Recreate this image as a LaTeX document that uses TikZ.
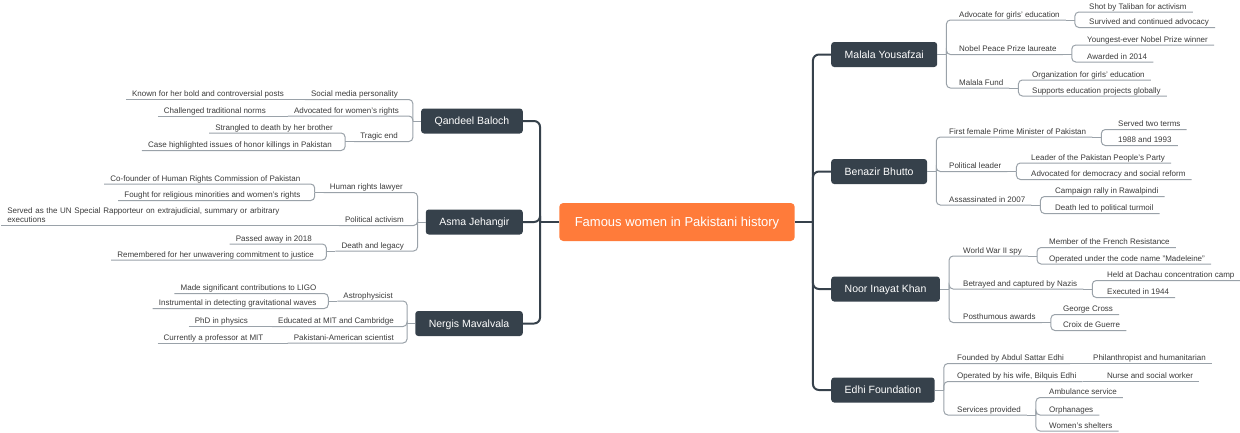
\documentclass[tikz,border=0pt]{standalone}
\usepackage{fontspec}
\setmainfont{Liberation Sans}
\definecolor{boxfill}{HTML}{36414B}
\definecolor{rootfill}{HTML}{FF7B3A}
\definecolor{linkgray}{HTML}{9AA2A9}
\definecolor{labeltext}{HTML}{3A3A3A}
\tikzset{
    root/.style={fill=rootfill, text=white, rounded corners=4pt, font=\fontsize{13}{15}\selectfont,
        inner xsep=15.5pt, inner ysep=0pt, minimum height=38pt, text height=9.3pt, text depth=0pt},
    person/.style={fill=boxfill, text=white, rounded corners=3pt, font=\fontsize{10.5}{12}\selectfont,
        inner xsep=13.5pt, inner ysep=0pt, minimum height=25pt, text height=7.5pt, text depth=0pt},
    detail/.style={text=labeltext, font=\fontsize{8}{9.6}\selectfont, inner xsep=6pt, inner ysep=0pt,
        text height=6pt, text depth=2.5pt},
    rgt/.style={detail, anchor=south west},
    lft/.style={detail, anchor=south east},
    longdetail/.style={text=labeltext, font=\fontsize{8}{9.6}\selectfont, inner xsep=6pt, inner ysep=2.5pt,
        text width=310pt, align=left, anchor=south east},
    link/.style={draw=linkgray, line width=1pt, rounded corners=4pt},
    trunk/.style={draw=boxfill, line width=2pt, rounded corners=6pt}
}
\begin{document}
\begin{tikzpicture}[x=1pt, y=-1pt]
    \useasboundingbox (0,0) rectangle (1240,432);
        \node[root] (central) at (677,222) {Famous women in Pakistani history};
        \node[person, anchor=west] (malala) at (831,54.5) {Malala Yousafzai};
        \node[person, anchor=west] (benazir) at (831,171.5) {Benazir Bhutto};
        \node[person, anchor=west] (noor) at (831,289) {Noor Inayat Khan};
        \node[person, anchor=west] (edhi) at (831,390) {Edhi Foundation};
        \node[person, anchor=east] (qandeel) at (523,121) {Qandeel Baloch};
        \node[person, anchor=east] (asma) at (523,222) {Asma Jehangir};
        \node[person, anchor=east] (nergis) at (523,323.5) {Nergis Mavalvala};

        \node[rgt] (advocate) at (953,20) {Advocate for girls' education};
        \node[rgt] (shot) at (1083,12) {Shot by Taliban for activism};
        \node[rgt] (survived) at (1083,27.5) {Survived and continued advocacy};
        \node[rgt] (nobel) at (953,54.5) {Nobel Peace Prize laureate};
        \node[rgt] (youngest) at (1081,45) {Youngest-ever Nobel Prize winner};
        \node[rgt] (awarded) at (1081,62) {Awarded in 2014};
        \node[rgt] (fund) at (953,88) {Malala Fund};
        \node[rgt] (organization) at (1026,80) {Organization for girls' education};
        \node[rgt] (supports) at (1026,96) {Supports education projects globally};

        \node[rgt] (firstpm) at (943,137) {First female Prime Minister of Pakistan};
        \node[rgt] (twoterms) at (1112,129.5) {Served two terms};
        \node[rgt] (years) at (1112,145.5) {1988 and 1993};
        \node[rgt] (political) at (943,171.5) {Political leader};
        \node[rgt] (ppp) at (1025,163) {Leader of the Pakistan People's Party};
        \node[rgt] (democracy) at (1025,179.5) {Advocated for democracy and social reform};
        \node[rgt] (assassinated) at (943,205) {Assassinated in 2007};
        \node[rgt] (rally) at (1049,196.5) {Campaign rally in Rawalpindi};
        \node[rgt] (turmoil) at (1049,213.5) {Death led to political turmoil};

        \node[rgt] (spy) at (957,256) {World War II spy};
        \node[rgt] (resistance) at (1043,247.5) {Member of the French Resistance};
        \node[rgt] (codename) at (1043,264) {Operated under the code name "Madeleine"};
        \node[rgt] (betrayed) at (957,289) {Betrayed and captured by Nazis};
        \node[rgt] (dachau) at (1101,280.5) {Held at Dachau concentration camp};
        \node[rgt] (executed) at (1101,297.5) {Executed in 1944};
        \node[rgt] (awards) at (957,322.5) {Posthumous awards};
        \node[rgt] (georgecross) at (1057,314.5) {George Cross};
        \node[rgt] (croix) at (1057,330.5) {Croix de Guerre};

        \node[rgt] (founded) at (951,363.5) {Founded by Abdul Sattar Edhi};
        \node[rgt] (philanthropist) at (1087,363.5) {Philanthropist and humanitarian};
        \node[rgt] (wife) at (951,381.5) {Operated by his wife, Bilquis Edhi};
        \node[rgt] (nurse) at (1101,381.5) {Nurse and social worker};
        \node[rgt] (services) at (951,415) {Services provided};
        \node[rgt] (ambulance) at (1043,397.5) {Ambulance service};
        \node[rgt] (orphanages) at (1043,415) {Orphanages};
        \node[rgt] (shelters) at (1043,431) {Women's shelters};

        \node[lft] (social) at (404,99.5) {Social media personality};
        \node[lft] (known) at (290,99.5) {Known for her bold and controversial posts};
        \node[lft] (womensrights) at (405,116) {Advocated for women's rights};
        \node[lft] (norms) at (272,116) {Challenged traditional norms};
        \node[lft] (tragic) at (404,141.5) {Tragic end};
        \node[lft] (strangled) at (339,133) {Strangled to death by her brother};
        \node[lft] (honor) at (338,150.5) {Case highlighted issues of honor killings in Pakistan};

        \node[lft] (lawyer) at (409,192.5) {Human rights lawyer};
        \node[lft] (hrcp) at (306.5,184) {Co-founder of Human Rights Commission of Pakistan};
        \node[lft] (minorities) at (306.5,200.5) {Fought for religious minorities and women's rights};
        \node[lft] (activism) at (410,225.5) {Political activism};
        \node[longdetail] (rapporteur) at (323.5,225.5) {Served as the UN Special Rapporteur on extrajudicial, summary or arbitrary\\executions};
        \node[lft] (legacy) at (410,251) {Death and legacy};
        \node[lft] (passedaway) at (318,244) {Passed away in 2018};
        \node[lft] (justice) at (320,260) {Remembered for her unwavering commitment to justice};

        \node[lft] (astro) at (399,301) {Astrophysicist};
        \node[lft] (ligo) at (322.5,293.5) {Made significant contributions to LIGO};
        \node[lft] (waves) at (322.5,308.5) {Instrumental in detecting gravitational waves};
        \node[lft] (educated) at (400,326.5) {Educated at MIT and Cambridge};
        \node[lft] (phd) at (254,326.5) {PhD in physics};
        \node[lft] (scientist) at (400,343) {Pakistani-American scientist};
        \node[lft] (professor) at (269.5,343) {Currently a professor at MIT};

        \draw[trunk] (central.east) -- ++(18,0);
        \draw[trunk] (malala.west) -| ([xshift=18pt]central.east);
        \draw[trunk] (benazir.west) -| ([xshift=18pt]central.east);
        \draw[trunk] (noor.west) -| ([xshift=18pt]central.east);
        \draw[trunk] (edhi.west) -| ([xshift=18pt]central.east);
        \draw[trunk] (central.west) -- ++(-19,0);
        \draw[trunk] (qandeel.east) -| ([xshift=-19pt]central.west);
        \draw[trunk] (asma.east) -| ([xshift=-19pt]central.west);
        \draw[trunk] (nergis.east) -| ([xshift=-19pt]central.west);

        \draw[link] (malala.east) -- ++(9,0);
        \draw[link] (advocate.south east) -| ([xshift=9pt]malala.east);
        \draw[link] (nobel.south east) -| ([xshift=9pt]malala.east);
        \draw[link] (fund.south east) -| ([xshift=9pt]malala.east);
        \draw[link] (advocate.south east) -- ++(9,0);
        \draw[link] (shot.south east) -| ([xshift=9pt]advocate.south east);
        \draw[link] (survived.south east) -| ([xshift=9pt]advocate.south east);
        \draw[link] (nobel.south east) -- ++(9,0);
        \draw[link] (youngest.south east) -| ([xshift=9pt]nobel.south east);
        \draw[link] (awarded.south east) -| ([xshift=9pt]nobel.south east);
        \draw[link] (fund.south east) -- ++(9,0);
        \draw[link] (organization.south east) -| ([xshift=9pt]fund.south east);
        \draw[link] (supports.south east) -| ([xshift=9pt]fund.south east);

        \draw[link] (benazir.east) -- ++(9,0);
        \draw[link] (firstpm.south east) -| ([xshift=9pt]benazir.east);
        \draw[link] (political.south east) -| ([xshift=9pt]benazir.east);
        \draw[link] (assassinated.south east) -| ([xshift=9pt]benazir.east);
        \draw[link] (firstpm.south east) -- ++(9,0);
        \draw[link] (twoterms.south east) -| ([xshift=9pt]firstpm.south east);
        \draw[link] (years.south east) -| ([xshift=9pt]firstpm.south east);
        \draw[link] (political.south east) -- ++(9,0);
        \draw[link] (ppp.south east) -| ([xshift=9pt]political.south east);
        \draw[link] (democracy.south east) -| ([xshift=9pt]political.south east);
        \draw[link] (assassinated.south east) -- ++(9,0);
        \draw[link] (rally.south east) -| ([xshift=9pt]assassinated.south east);
        \draw[link] (turmoil.south east) -| ([xshift=9pt]assassinated.south east);

        \draw[link] (noor.east) -- ++(9,0);
        \draw[link] (spy.south east) -| ([xshift=9pt]noor.east);
        \draw[link] (betrayed.south east) -| ([xshift=9pt]noor.east);
        \draw[link] (awards.south east) -| ([xshift=9pt]noor.east);
        \draw[link] (spy.south east) -- ++(9,0);
        \draw[link] (resistance.south east) -| ([xshift=9pt]spy.south east);
        \draw[link] (codename.south east) -| ([xshift=9pt]spy.south east);
        \draw[link] (betrayed.south east) -- ++(9,0);
        \draw[link] (dachau.south east) -| ([xshift=9pt]betrayed.south east);
        \draw[link] (executed.south east) -| ([xshift=9pt]betrayed.south east);
        \draw[link] (awards.south east) -- ++(9,0);
        \draw[link] (georgecross.south east) -| ([xshift=9pt]awards.south east);
        \draw[link] (croix.south east) -| ([xshift=9pt]awards.south east);

        \draw[link] (edhi.east) -- ++(9,0);
        \draw[link] (founded.south east) -| ([xshift=9pt]edhi.east);
        \draw[link] (wife.south east) -| ([xshift=9pt]edhi.east);
        \draw[link] (services.south east) -| ([xshift=9pt]edhi.east);
        \draw[link] (philanthropist.south east) -- (founded.south east);
        \draw[link] (nurse.south east) -- (wife.south east);
        \draw[link] (services.south east) -- ++(9,0);
        \draw[link] (ambulance.south east) -| ([xshift=9pt]services.south east);
        \draw[link] (orphanages.south east) -| ([xshift=9pt]services.south east);
        \draw[link] (shelters.south east) -| ([xshift=9pt]services.south east);

        \draw[link] (qandeel.west) -- ++(-8,0);
        \draw[link] (social.south west) -| ([xshift=-8pt]qandeel.west);
        \draw[link] (womensrights.south west) -| ([xshift=-8pt]qandeel.west);
        \draw[link] (tragic.south west) -| ([xshift=-8pt]qandeel.west);
        \draw[link] (known.south west) -- (social.south west);
        \draw[link] (norms.south west) -- (womensrights.south west);
        \draw[link] (tragic.south west) -- ++(-9,0);
        \draw[link] (strangled.south west) -| ([xshift=-9pt]tragic.south west);
        \draw[link] (honor.south west) -| ([xshift=-9pt]tragic.south west);

        \draw[link] (asma.west) -- ++(-8,0);
        \draw[link] (lawyer.south west) -| ([xshift=-8pt]asma.west);
        \draw[link] (activism.south west) -| ([xshift=-8pt]asma.west);
        \draw[link] (legacy.south west) -| ([xshift=-8pt]asma.west);
        \draw[link] (lawyer.south west) -- ++(-9,0);
        \draw[link] (hrcp.south west) -| ([xshift=-9pt]lawyer.south west);
        \draw[link] (minorities.south west) -| ([xshift=-9pt]lawyer.south west);
        \draw[link] (rapporteur.south west) -- (activism.south west);
        \draw[link] (legacy.south west) -- ++(-9,0);
        \draw[link] (passedaway.south west) -| ([xshift=-9pt]legacy.south west);
        \draw[link] (justice.south west) -| ([xshift=-9pt]legacy.south west);

        \draw[link] (nergis.west) -- ++(-8,0);
        \draw[link] (astro.south west) -| ([xshift=-8pt]nergis.west);
        \draw[link] (educated.south west) -| ([xshift=-8pt]nergis.west);
        \draw[link] (scientist.south west) -| ([xshift=-8pt]nergis.west);
        \draw[link] (astro.south west) -- ++(-9,0);
        \draw[link] (ligo.south west) -| ([xshift=-9pt]astro.south west);
        \draw[link] (waves.south west) -| ([xshift=-9pt]astro.south west);
        \draw[link] (phd.south west) -- (educated.south west);
        \draw[link] (professor.south west) -- (scientist.south west);
    \end{tikzpicture}
\end{document}
